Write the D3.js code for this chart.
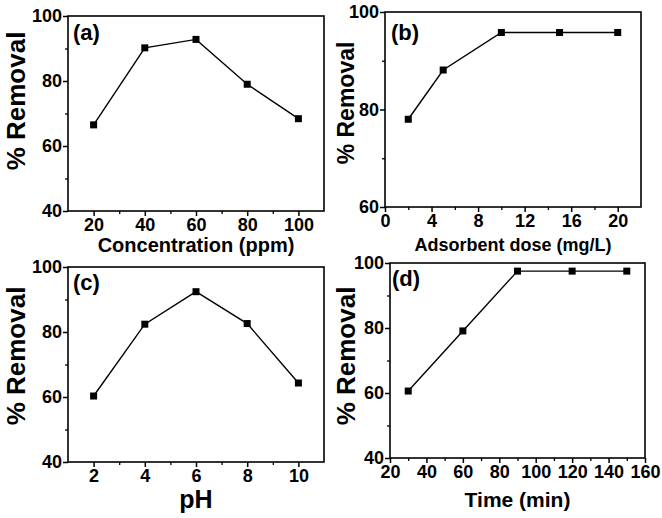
<!DOCTYPE html>
<html><head><meta charset="utf-8">
<script src="https://cdn.jsdelivr.net/npm/d3@7"></script>
<style>
html,body{margin:0;padding:0;background:#fff;}
svg text{font-family:"Liberation Sans",Arial,sans-serif;font-weight:bold;fill:#000;}
</style></head>
<body>
<svg id="chart" width="662" height="518"></svg>
<script>
// ---- data ----
const concX = [20, 40, 60, 80, 100];
const concY = [66.5, 90.2, 92.8, 79.0, 68.4];
const doseX = [2, 5, 10, 15, 20];
const doseY = [78.0, 88.1, 95.8, 95.8, 95.8];
const phX = [2, 4, 6, 8, 10];
const phY = [60.3, 82.4, 92.4, 82.6, 64.3];
const timeX = [30, 60, 90, 120, 150];
const timeY = [60.6, 79.1, 97.5, 97.5, 97.5];

const concTicks = [20, 40, 60, 80, 100];
const doseTicks = [0, 4, 8, 12, 16, 20];
const phTicks = [2, 4, 6, 8, 10];
const timeTicks = [20, 40, 60, 80, 100, 120, 140, 160];
const yTicks40 = [40, 60, 80, 100];
const yTicks60 = [60, 80, 100];

const panelLabels = ["(a)", "(b)", "(c)", "(d)"];
const xTitles = ["Concentration (ppm)", "Adsorbent dose (mg/L)", "pH", "Time (min)"];
const yTitle = "% Removal";

const panels = [
  {x: concX, y: concY, xd: [10, 110], yd: [40, 100], xt: concTicks, yt: yTicks40,
   box: [68, 324, 16, 211], label: panelLabels[0], xtitle: xTitles[0],
   xtSize: 20, xtY: 252, ytSize: 26, ytX: 25, ytY: 101, lbl: [73, 40]},
  {x: doseX, y: doseY, xd: [0, 22], yd: [60, 100], xt: doseTicks, yt: yTicks60,
   box: [385, 641, 12, 207], label: panelLabels[1], xtitle: xTitles[1],
   xtSize: 18, xtY: 251, ytSize: 23, ytX: 354, ytY: 103, lbl: [391, 40]},
  {x: phX, y: phY, xd: [1, 11], yd: [40, 100], xt: phTicks, yt: yTicks40,
   box: [68, 324, 267, 462], label: panelLabels[2], xtitle: xTitles[2],
   xtSize: 25, xtY: 508, ytSize: 26, ytX: 25, ytY: 356, lbl: [73, 290]},
  {x: timeX, y: timeY, xd: [20, 160], yd: [40, 100], xt: timeTicks, yt: yTicks40,
   box: [390, 645, 263, 458], label: panelLabels[3], xtitle: xTitles[3],
   xtSize: 21, xtY: 507, ytSize: 26, ytX: 355, ytY: 356, lbl: [392, 286]}
];

const svg = d3.select("#chart");

panels.forEach(p => {
  const [l, r, t, b] = p.box;
  const xs = d3.scaleLinear().domain(p.xd).range([l, r]);
  const ys = d3.scaleLinear().domain(p.yd).range([b, t]);
  const g = svg.append("g");

  // minor ticks
  const xStep = p.xt[1] - p.xt[0];
  const yStep = p.yt[1] - p.yt[0];
  const xMinor = p.xt.map(v => v + xStep / 2).filter(v => v > p.xd[0] && v < p.xd[1]);
  const yMinor = p.yt.map(v => v + yStep / 2).filter(v => v > p.yd[0] && v < p.yd[1]);

  g.append("g").attr("transform", `translate(0,${b})`)
    .call(d3.axisBottom(xs).tickValues(xMinor).tickSize(3).tickFormat(""))
    .call(s => s.select(".domain").remove())
    .selectAll("line").attr("stroke-width", 1.3);
  g.append("g").attr("transform", `translate(${l},0)`)
    .call(d3.axisLeft(ys).tickValues(yMinor).tickSize(3).tickFormat(""))
    .call(s => s.select(".domain").remove())
    .selectAll("line").attr("stroke-width", 1.3);

  const xa = g.append("g").attr("transform", `translate(0,${b})`)
    .call(d3.axisBottom(xs).tickValues(p.xt).tickSize(5).tickPadding(2).tickSizeOuter(0));
  xa.select(".domain").remove();
  xa.selectAll("line").attr("stroke-width", 1.5);
  xa.selectAll("text").attr("font-size", 18).attr("font-family", null);

  const ya = g.append("g").attr("transform", `translate(${l},0)`)
    .call(d3.axisLeft(ys).tickValues(p.yt).tickSize(5).tickPadding(1).tickSizeOuter(0));
  ya.select(".domain").remove();
  ya.selectAll("line").attr("stroke-width", 1.5);
  ya.selectAll("text").attr("font-size", 18).attr("font-family", null);

  // frame
  g.append("rect").attr("x", l).attr("y", t).attr("width", r - l).attr("height", b - t)
    .attr("fill", "none").attr("stroke", "#000").attr("stroke-width", 1.6);

  // line
  const pts = p.x.map((v, i) => [v, p.y[i]]);
  g.append("path").datum(pts)
    .attr("d", d3.line().x(d => xs(d[0])).y(d => ys(d[1])))
    .attr("fill", "none").attr("stroke", "#000").attr("stroke-width", 1.4);
  g.selectAll("rect.m").data(pts).join("rect").attr("class", "m")
    .attr("x", d => xs(d[0]) - 3.5).attr("y", d => ys(d[1]) - 3.5)
    .attr("width", 7).attr("height", 7).attr("fill", "#000");

  // labels
  g.append("text").attr("x", p.lbl[0]).attr("y", p.lbl[1]).attr("font-size", 22).text(p.label);
  g.append("text").attr("x", (l + r) / 2).attr("y", p.xtY).attr("text-anchor", "middle")
    .attr("font-size", p.xtSize).text(p.xtitle);
  g.append("text").attr("transform", `translate(${p.ytX},${p.ytY}) rotate(-90)`)
    .attr("text-anchor", "middle").attr("font-size", p.ytSize).text(yTitle);
});
</script>
</body></html>
